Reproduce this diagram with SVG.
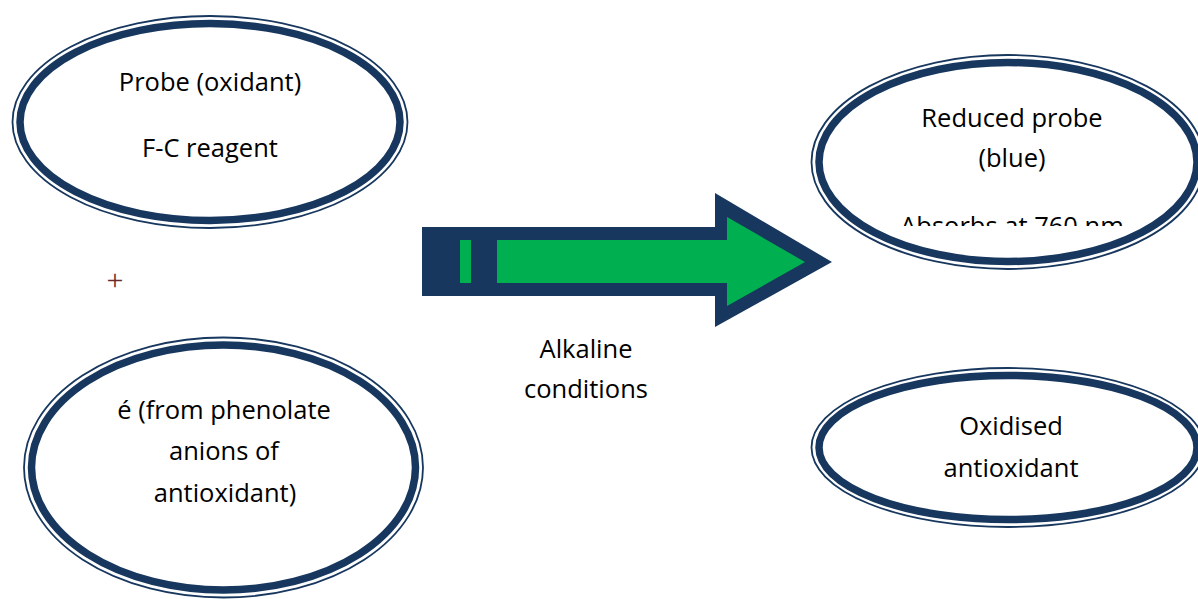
<svg xmlns="http://www.w3.org/2000/svg" width="1198" height="599" viewBox="0 0 1198 599">
  <style>
    .thick { fill: #ffffff; stroke: #17375E; stroke-width: 7.5; }
    .thin { fill: none; stroke: #17375E; stroke-width: 1.8; }
    .lbl { font-family: "Open Sans", "Liberation Sans", sans-serif; font-size: 25.5px; fill: #000000; text-anchor: middle; }
    .dark { fill: #17375E; }
    .green { fill: #00B050; }
  </style>
  <defs>
    <clipPath id="clipAbs">
      <rect x="850" y="100" width="348" height="126"/>
    </clipPath>
  </defs>
  <rect width="1198" height="599" fill="#ffffff"/>

  <g id="node-probe">
    <ellipse class="thin" cx="210" cy="122" rx="197.5" ry="106"/>
    <ellipse class="thick" cx="210" cy="122" rx="190" ry="98.5"/>
    <text class="lbl" x="210" y="91">Probe (oxidant)</text>
    <text class="lbl" x="210" y="157">F-C reagent</text>
  </g>

  <g id="plus">
    <text x="115" y="290" font-family="Liberation Serif, serif" font-size="30" fill="#6B2A2A" text-anchor="middle">+</text>
  </g>

  <g id="node-electron">
    <ellipse class="thin" cx="223.5" cy="467.5" rx="199.5" ry="130"/>
    <ellipse class="thick" cx="223.5" cy="467.5" rx="192" ry="122.5"/>
    <text class="lbl" x="224" y="419">é (from phenolate</text>
    <text class="lbl" x="224" y="460">anions of</text>
    <text class="lbl" x="225" y="502">antioxidant)</text>
  </g>

  <g id="node-reduced">
    <ellipse class="thin" cx="1008" cy="162" rx="196.5" ry="107"/>
    <ellipse class="thick" cx="1008" cy="162" rx="189" ry="99.5"/>
    <text class="lbl" x="1012" y="127">Reduced probe</text>
    <text class="lbl" x="1012" y="167">(blue)</text>
    <text class="lbl" x="1012" y="235" clip-path="url(#clipAbs)">Absorbs at 760 nm</text>
  </g>

  <g id="node-oxidised">
    <ellipse class="thin" cx="1008" cy="447.5" rx="196.5" ry="79.5"/>
    <ellipse class="thick" cx="1008" cy="447.5" rx="189" ry="72"/>
    <text class="lbl" x="1011" y="435">Oxidised</text>
    <text class="lbl" x="1011" y="477">antioxidant</text>
  </g>

  <g id="connectors">
    <g id="arrow-reaction">
      <polygon class="dark" points="422,227 715,227 715,193 832,262 715,327 715,296 422,296"/>
      <rect class="green" x="460" y="240" width="11" height="43"/>
      <rect class="green" x="497" y="240" width="231" height="43"/>
      <polygon class="green" points="727,217 805,262 727,306"/>
    </g>
    <text class="lbl" x="586" y="358">Alkaline</text>
    <text class="lbl" x="586" y="398">conditions</text>
  </g>
</svg>
